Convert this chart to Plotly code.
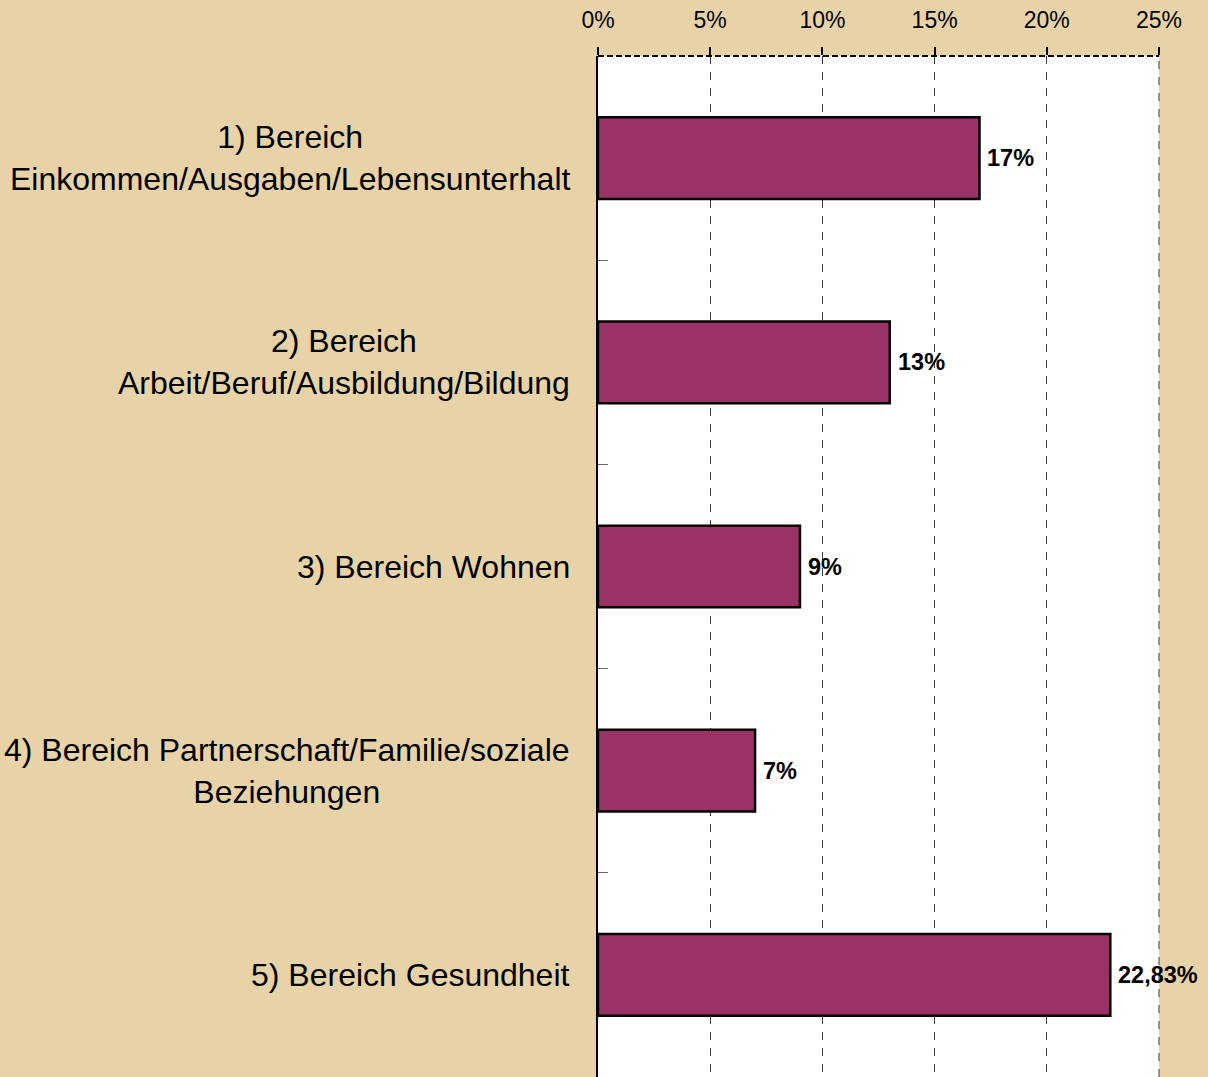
import plotly.graph_objects as go

# Survey shares per life area (percent)
categories = [
    "1) Bereich<br>Einkommen/Ausgaben/Lebensunterhalt",
    "2) Bereich<br>Arbeit/Beruf/Ausbildung/Bildung",
    "3) Bereich Wohnen",
    "4) Bereich Partnerschaft/Familie/soziale<br>Beziehungen",
    "5) Bereich Gesundheit",
]
values = [17, 13, 9, 7, 22.83]
x_ticks = [0, 5, 10, 15, 20, 25]

FONT = "Liberation Sans, Arial, sans-serif"
positions = list(range(len(categories)))


def pct_label(v):
    s = f"{v:.2f}".rstrip("0").rstrip(".")
    return s.replace(".", ",") + "%"


fig = go.Figure(
    go.Bar(
        x=values,
        y=positions,
        orientation="h",
        width=0.4,
        marker=dict(color="#993366", line=dict(color="#000000", width=2.5)),
        hoverinfo="skip",
    )
)

annotations = []
for i, (cat, v) in enumerate(zip(categories, values)):
    annotations.append(dict(
        x=0, xref="paper", y=i, yref="y",
        text=cat, showarrow=False,
        xanchor="right", yanchor="middle", align="center", xshift=-26,
        font=dict(family=FONT, size=32, color="#000000"),
    ))
    annotations.append(dict(
        x=v, xref="x", y=i, yref="y",
        text=pct_label(v), showarrow=False,
        xanchor="left", yanchor="middle", xshift=6,
        font=dict(family=FONT, size=23.5, color="#000000", weight="bold"),
    ))

fig.update_layout(
    width=1208,
    height=1077,
    margin=dict(l=598, r=49, t=56, b=0),
    paper_bgcolor="#e8d3a8",
    plot_bgcolor="#ffffff",
    showlegend=False,
    bargap=0.6,
    annotations=annotations,
    xaxis=dict(
        side="top",
        range=[0, 25],
        tickvals=x_ticks,
        ticktext=[f"{t}%" for t in x_ticks],
        ticks="outside",
        ticklen=8,
        tickwidth=1.5,
        tickcolor="#000000",
        ticklabelstandoff=10,
        tickfont=dict(family=FONT, size=23, color="#000000"),
        showgrid=True,
        gridcolor="#3a3a3a",
        gridwidth=1,
        griddash="8px,8px",
        showline=False,
        zeroline=False,
        fixedrange=True,
    ),
    yaxis=dict(
        range=[4.5, -0.5],
        tickvals=[0.5, 1.5, 2.5, 3.5],
        showticklabels=False,
        ticks="inside",
        ticklen=10,
        tickwidth=1,
        tickcolor="#666666",
        showgrid=False,
        zeroline=False,
        showline=True,
        linecolor="#000000",
        linewidth=2,
        fixedrange=True,
    ),
    shapes=[
        # dashed upper border of the plot area
        dict(type="line", xref="x domain", yref="y domain",
             x0=0, x1=1, y0=1, y1=1,
             line=dict(color="#000000", width=2, dash="6px,3px")),
        # dashed gridline at the right end of the value range
        dict(type="line", xref="x domain", yref="y domain",
             x0=1, x1=1, y0=0, y1=1,
             line=dict(color="#3a3a3a", width=1, dash="8px,8px")),
    ],
)

fig.write_html("out.html")
